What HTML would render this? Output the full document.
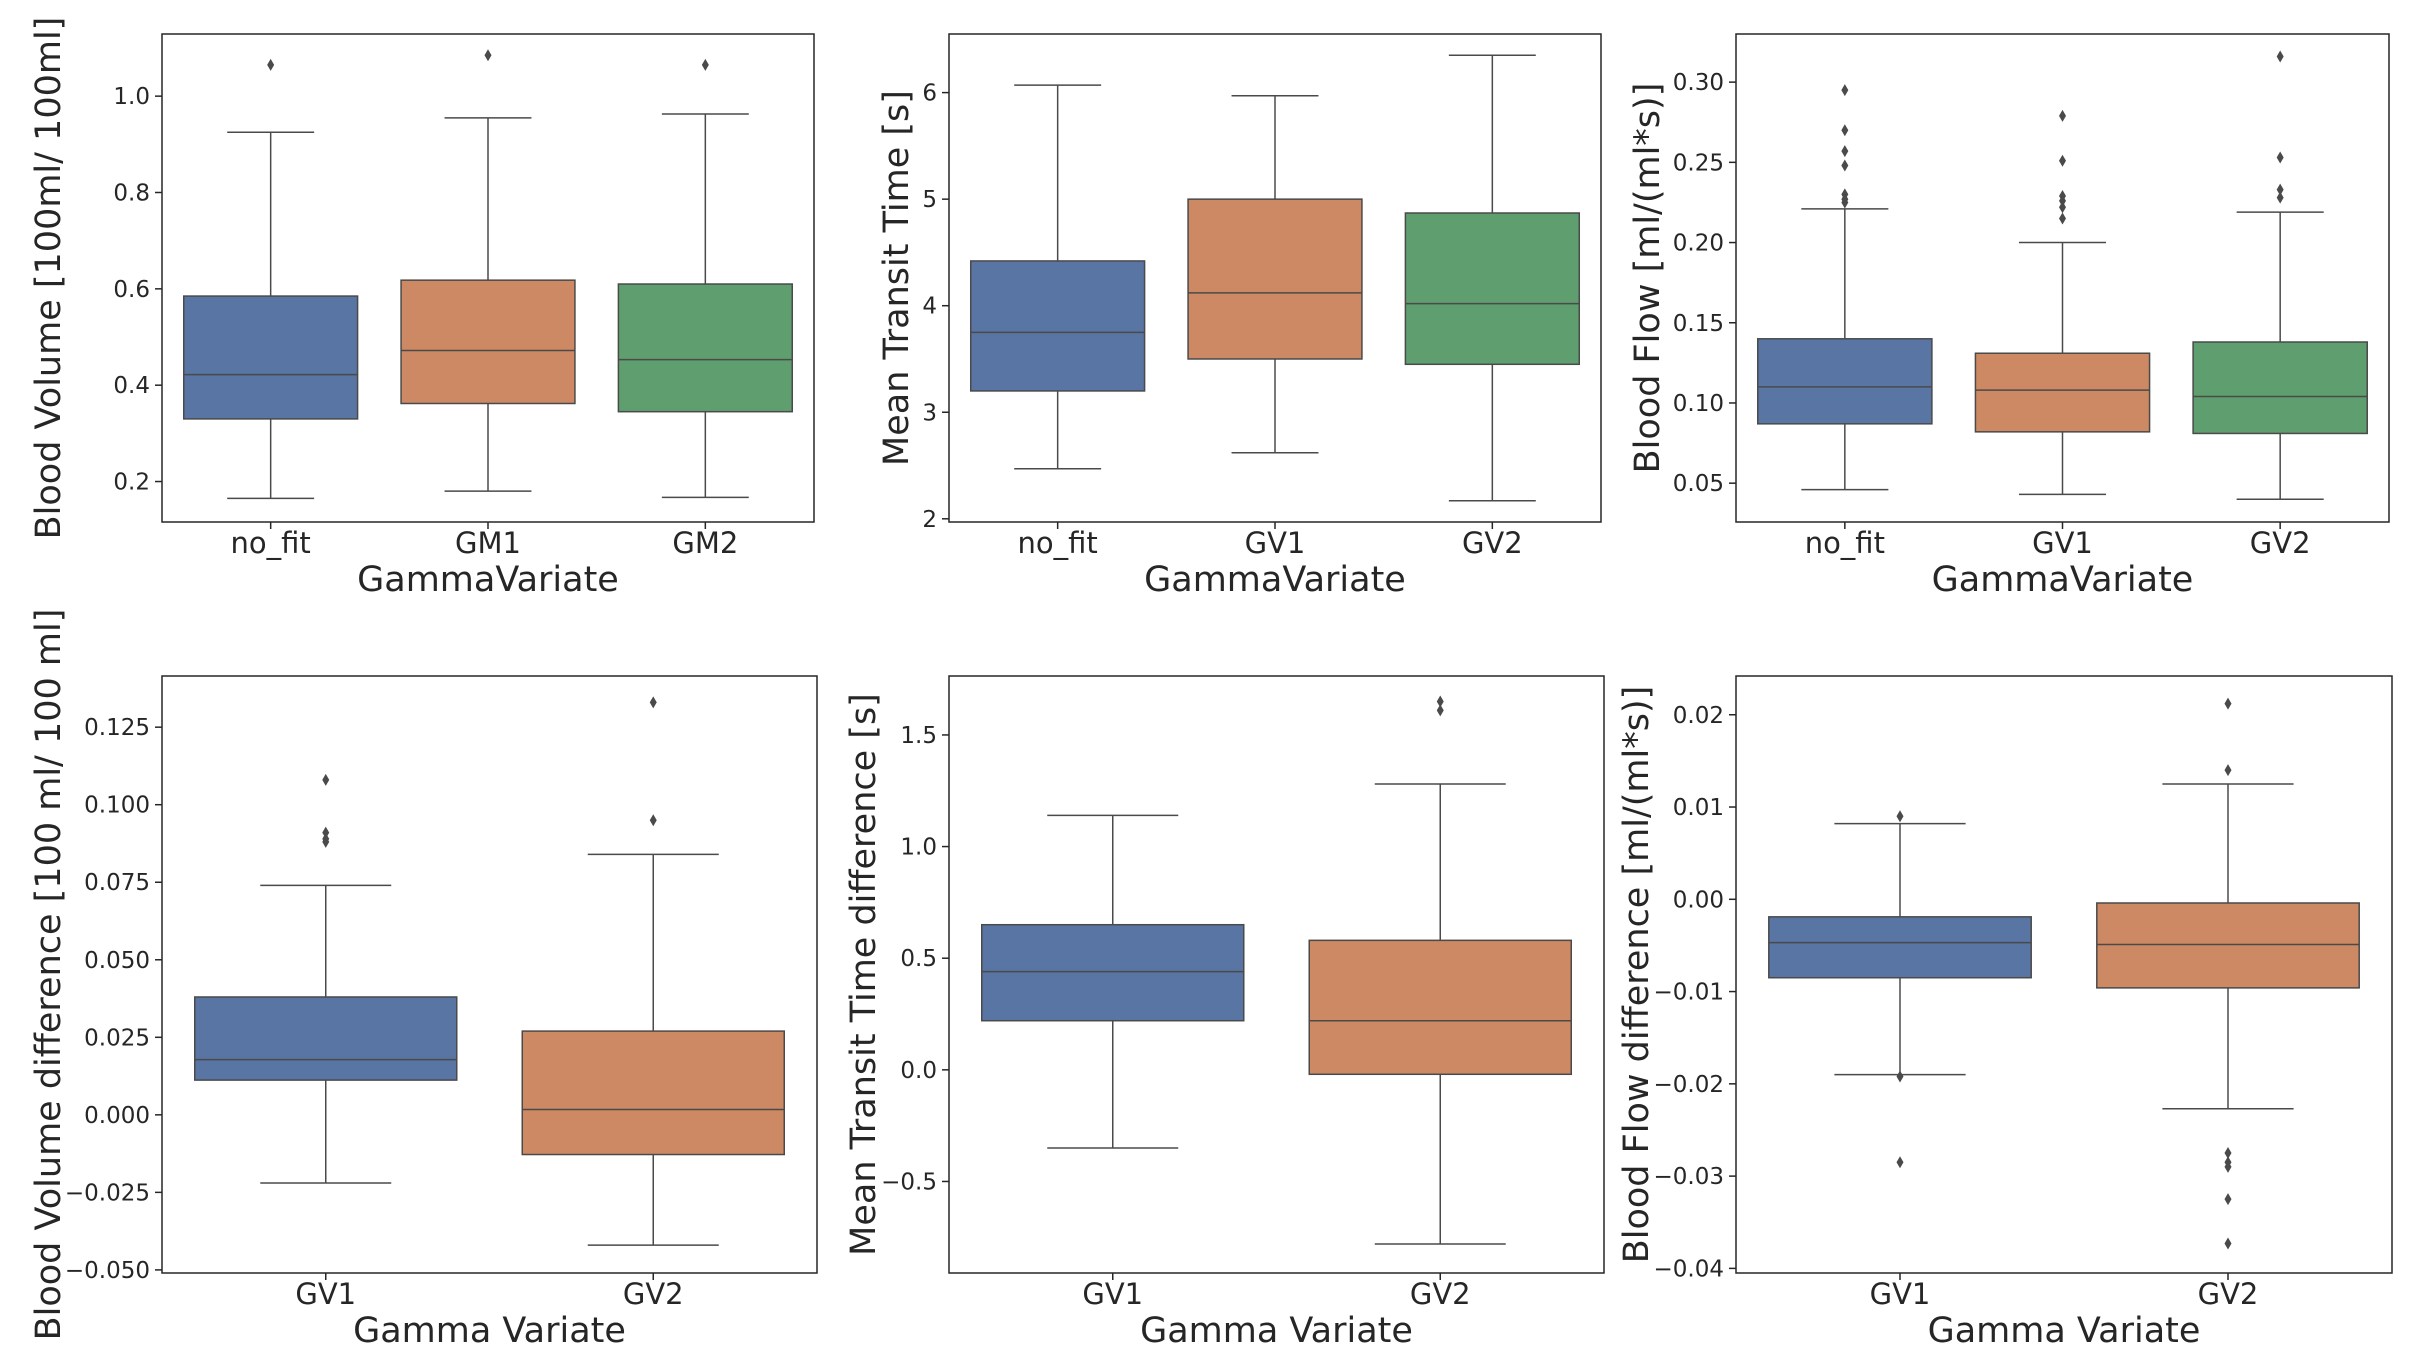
<!DOCTYPE html>
<html><head><meta charset="utf-8"><style>
html,body{margin:0;padding:0;background:#fff;}
svg{display:block;font-family:"DejaVu Sans","Liberation Sans",sans-serif;}
</style></head><body>
<svg id="fig" width="2436" height="1356" viewBox="0 0 2436 1356" xmlns="http://www.w3.org/2000/svg"></svg>
<script>
// Panel 1: Blood Volume
const p1Cats = ["no_fit","GM1","GM2"];
const p1Q1 = [0.330,0.362,0.345];
const p1Med = [0.422,0.472,0.453];
const p1Q3 = [0.585,0.618,0.610];
const p1WLo = [0.165,0.180,0.167];
const p1WHi = [0.925,0.955,0.963];
const p1Out = [[1.065],[1.085],[1.065]];
const p1Ticks = [0.2,0.4,0.6,0.8,1.0];
const p1TickLabels = ["0.2","0.4","0.6","0.8","1.0"];
// Panel 2: Mean Transit Time
const p2Cats = ["no_fit","GV1","GV2"];
const p2Q1 = [3.20,3.50,3.45];
const p2Med = [3.75,4.12,4.02];
const p2Q3 = [4.42,5.00,4.87];
const p2WLo = [2.47,2.62,2.17];
const p2WHi = [6.07,5.97,6.35];
const p2Out = [[],[],[]];
const p2Ticks = [2,3,4,5,6];
const p2TickLabels = ["2","3","4","5","6"];
// Panel 3: Blood Flow
const p3Cats = ["no_fit","GV1","GV2"];
const p3Q1 = [0.087,0.082,0.081];
const p3Med = [0.110,0.108,0.104];
const p3Q3 = [0.140,0.131,0.138];
const p3WLo = [0.046,0.043,0.040];
const p3WHi = [0.221,0.200,0.219];
const p3Out = [[0.295,0.270,0.257,0.248,0.230,0.227,0.225],[0.279,0.251,0.229,0.226,0.222,0.215],[0.316,0.253,0.233,0.228]];
const p3Ticks = [0.05,0.10,0.15,0.20,0.25,0.30];
const p3TickLabels = ["0.05","0.10","0.15","0.20","0.25","0.30"];
// Panel 4: Blood Volume difference
const p4Cats = ["GV1","GV2"];
const p4Q1 = [0.0112,-0.0128];
const p4Med = [0.0178,0.0017];
const p4Q3 = [0.0380,0.0270];
const p4WLo = [-0.0220,-0.0420];
const p4WHi = [0.0740,0.0840];
const p4Out = [[0.108,0.091,0.089,0.088],[0.133,0.095]];
const p4Ticks = [-0.05,-0.025,0,0.025,0.05,0.075,0.1,0.125];
const p4TickLabels = ["\u22120.050","\u22120.025","0.000","0.025","0.050","0.075","0.100","0.125"];
// Panel 5: MTT difference
const p5Cats = ["GV1","GV2"];
const p5Q1 = [0.22,-0.02];
const p5Med = [0.44,0.22];
const p5Q3 = [0.65,0.58];
const p5WLo = [-0.35,-0.78];
const p5WHi = [1.14,1.28];
const p5Out = [[],[1.65,1.61]];
const p5Ticks = [-0.5,0,0.5,1.0,1.5];
const p5TickLabels = ["\u22120.5","0.0","0.5","1.0","1.5"];
// Panel 6: Blood Flow difference
const p6Cats = ["GV1","GV2"];
const p6Q1 = [-0.0085,-0.0096];
const p6Med = [-0.0047,-0.0049];
const p6Q3 = [-0.0019,-0.0004];
const p6WLo = [-0.0190,-0.0227];
const p6WHi = [0.0082,0.0125];
const p6Out = [[0.0090,-0.0192,-0.0285],[0.0212,0.0140,-0.0275,-0.0285,-0.0290,-0.0325,-0.0373]];
const p6Ticks = [-0.04,-0.03,-0.02,-0.01,0,0.01,0.02];
const p6TickLabels = ["\u22120.04","\u22120.03","\u22120.02","\u22120.01","0.00","0.01","0.02"];

const COLORS = ["#5875a4","#cc8963","#5f9e6e"];
const NS = "http://www.w3.org/2000/svg";
const svg = document.getElementById("fig");
function mk(tag, attrs, parent){const e=document.createElementNS(NS,tag);for(const k in attrs)e.setAttribute(k,attrs[k]);(parent||svg).appendChild(e);return e;}

function panel(id, box, ylim, cats, q1, med, q3, wlo, whi, outs, ticks, tickLabels, ylabel, xlabel, ylabX){
  const [x0,y0,x1,y1]=box;
  const g=mk("g",{});
  
  
  const Y=v=>y1-(v-ylim[0])/(ylim[1]-ylim[0])*(y1-y0);
  const bw=(x1-x0)/cats.length;
  const X=i=>x0+bw*(i+0.5);
  ticks.forEach((t,i)=>{
    const y=Y(t);
    const tk=mk("line",{x1:x0-7,x2:x0,y1:y,y2:y,stroke:"#262626","stroke-width":1.5},g);
    
    
    const tl=mk("text",{x:x0-12,y:y+8,"text-anchor":"end","font-size":23,fill:"#262626"},g);
    
    
    tl.textContent=tickLabels[i];
  });
  cats.forEach((c,i)=>{
    const cx=X(i), w=bw*0.8, lc="#4a4a4a";
    const bg=mk("g",{},g);
    
    
    mk("line",{x1:cx,x2:cx,y1:Y(q3[i]),y2:Y(whi[i]),stroke:lc,"stroke-width":1.5},bg);
    mk("line",{x1:cx,x2:cx,y1:Y(q1[i]),y2:Y(wlo[i]),stroke:lc,"stroke-width":1.5},bg);
    mk("line",{x1:cx-w/4,x2:cx+w/4,y1:Y(whi[i]),y2:Y(whi[i]),stroke:lc,"stroke-width":1.5},bg);
    mk("line",{x1:cx-w/4,x2:cx+w/4,y1:Y(wlo[i]),y2:Y(wlo[i]),stroke:lc,"stroke-width":1.5},bg);
    mk("rect",{x:cx-w/2,y:Y(q3[i]),width:w,height:Y(q1[i])-Y(q3[i]),fill:COLORS[i],stroke:lc,"stroke-width":1.5},bg);
    mk("line",{x1:cx-w/2,x2:cx+w/2,y1:Y(med[i]),y2:Y(med[i]),stroke:lc,"stroke-width":1.5},bg);
    outs[i].forEach(v=>{
      const y=Y(v);
      const d=mk("polygon",{points:`${cx},${y-6} ${cx+3.5},${y} ${cx},${y+6} ${cx-3.5},${y}`,fill:"#4a4a4a"},bg);
      
      
    });
    const xt=mk("line",{x1:cx,x2:cx,y1:y1,y2:y1+7,stroke:"#262626","stroke-width":1.5},g);
    
    
    const xl=mk("text",{x:cx,y:y1+31,"text-anchor":"middle","font-size":29,fill:"#262626"},g);
    
    
    xl.textContent=c;
  });
  const fr=mk("rect",{x:x0,y:y0,width:x1-x0,height:y1-y0,fill:"none",stroke:"#262626","stroke-width":1.5},g);
  
  
  const xt=mk("text",{x:(x0+x1)/2,y:y1+69,"text-anchor":"middle","font-size":35,fill:"#262626"},g);
  
  
  xt.textContent=xlabel;
  const cy=(y0+y1)/2;
  const yt=mk("text",{x:ylabX,y:cy,"text-anchor":"middle","font-size":35,fill:"#262626",transform:`rotate(-90 ${ylabX} ${cy})`,"dominant-baseline":"middle"},g);
  
  
  yt.textContent=ylabel;
}
panel("panel-blood-volume",[162,34,814,522],[0.116,1.129],p1Cats,p1Q1,p1Med,p1Q3,p1WLo,p1WHi,p1Out,p1Ticks,p1TickLabels,"Blood Volume [100ml/ 100ml]","GammaVariate",50);
panel("panel-mean-transit-time",[949,34,1601,522],[1.97,6.55],p2Cats,p2Q1,p2Med,p2Q3,p2WLo,p2WHi,p2Out,p2Ticks,p2TickLabels,"Mean Transit Time [s]","GammaVariate",898);
panel("panel-blood-flow",[1736,34,2389,522],[0.0258,0.330],p3Cats,p3Q1,p3Med,p3Q3,p3WLo,p3WHi,p3Out,p3Ticks,p3TickLabels,"Blood Flow [ml/(ml*s)]","GammaVariate",1649);
panel("panel-blood-volume-diff",[162,676,817,1273],[-0.051,0.1415],p4Cats,p4Q1,p4Med,p4Q3,p4WLo,p4WHi,p4Out,p4Ticks,p4TickLabels,"Blood Volume difference [100 ml/ 100 ml]","Gamma Variate",50);
panel("panel-mtt-diff",[949,676,1604,1273],[-0.91,1.764],p5Cats,p5Q1,p5Med,p5Q3,p5WLo,p5WHi,p5Out,p5Ticks,p5TickLabels,"Mean Transit Time difference [s]","Gamma Variate",865);
panel("panel-blood-flow-diff",[1736,676,2392,1273],[-0.0405,0.0242],p6Cats,p6Q1,p6Med,p6Q3,p6WLo,p6WHi,p6Out,p6Ticks,p6TickLabels,"Blood Flow difference [ml/(ml*s)]","Gamma Variate",1638);
</script>
</body></html>
